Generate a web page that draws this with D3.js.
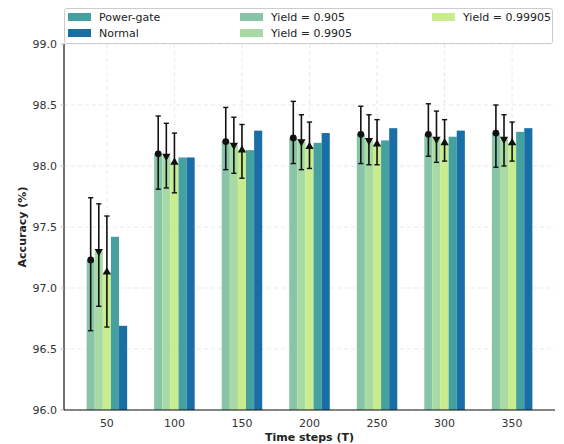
<!DOCTYPE html>
<html><head><meta charset="utf-8">
<script src="https://cdn.jsdelivr.net/npm/d3@7"></script>
<style>body{margin:0;background:#fff}svg{display:block}text{font-family:"DejaVu Sans",sans-serif}</style>
</head><body><svg id="c" width="564" height="444"></svg>
<script>
const categories = ["50","100","150","200","250","300","350"];
const yTicks = [96.0,96.5,97.0,97.5,98.0,98.5,99.0];
const y905   = [97.23,98.10,98.20,98.23,98.26,98.26,98.27];
const y905Lo = [96.65,97.81,97.97,98.02,98.02,98.08,97.99];
const y905Hi = [97.74,98.41,98.48,98.53,98.49,98.51,98.50];
const y9905   = [97.30,98.08,98.17,98.20,98.21,98.22,98.22];
const y9905Lo = [96.85,97.82,97.94,97.97,98.01,98.03,98.00];
const y9905Hi = [97.69,98.35,98.40,98.42,98.42,98.45,98.42];
const y99905   = [97.13,98.03,98.13,98.16,98.18,98.19,98.19];
const y99905Lo = [96.68,97.78,97.90,97.98,98.01,98.04,98.04];
const y99905Hi = [97.59,98.27,98.34,98.36,98.38,98.38,98.36];
const powerGate = [97.42,98.07,98.13,98.19,98.21,98.24,98.28];
const normal    = [96.69,98.07,98.29,98.27,98.31,98.29,98.31];

const series = [
  {name:"Yield = 0.905",   vals:y905,   lo:y905Lo,   hi:y905Hi,   color:"#88c4a8", marker:"circle"},
  {name:"Yield = 0.9905",  vals:y9905,  lo:y9905Lo,  hi:y9905Hi,  color:"#a7dba3", marker:"down"},
  {name:"Yield = 0.99905", vals:y99905, lo:y99905Lo, hi:y99905Hi, color:"#c9ec8f", marker:"up"},
  {name:"Power-gate", vals:powerGate, color:"#45a0a0"},
  {name:"Normal",     vals:normal,    color:"#1a6ea6"}
];

const svg = d3.select("#c");
const L=64, R=555, T=44, B=410;
const x = d3.scaleLinear().domain([-0.635, 6.635]).range([L,R]);
const y = d3.scaleLinear().domain([96,99]).range([B,T]);
const bw = 0.12;

// grid
const g = svg.append("g");
g.selectAll(".hg").data(yTicks).join("line")
  .attr("x1",L).attr("x2",R).attr("y1",d=>y(d)).attr("y2",d=>y(d))
  .attr("stroke","#e3e3e3").attr("stroke-width",0.8).attr("stroke-dasharray","4,3");
g.selectAll(".vg").data(categories).join("line")
  .attr("x1",(d,i)=>x(i)).attr("x2",(d,i)=>x(i)).attr("y1",T).attr("y2",B)
  .attr("stroke","#e3e3e3").attr("stroke-width",0.8).attr("stroke-dasharray","4,3");

// bars
series.forEach((s,si)=>{
  const off = (si-2)*bw;
  svg.append("g").selectAll("rect").data(s.vals).join("rect")
    .attr("x",(d,i)=>x(i+off-bw/2)).attr("width",x(bw)-x(0))
    .attr("y",d=>y(d)).attr("height",d=>B-y(d)).attr("fill",s.color);
});
// error bars
series.forEach((s,si)=>{
  if(!s.lo) return;
  const off=(si-2)*bw;
  const eg = svg.append("g");
  s.vals.forEach((v,i)=>{
    const cx = x(i+off);
    eg.append("line").attr("x1",cx).attr("x2",cx).attr("y1",y(s.lo[i])).attr("y2",y(s.hi[i]))
      .attr("stroke","#111").attr("stroke-width",1.6);
    [s.lo[i],s.hi[i]].forEach(e=>eg.append("line").attr("x1",cx-2.6).attr("x2",cx+2.6)
      .attr("y1",y(e)).attr("y2",y(e)).attr("stroke","#111").attr("stroke-width",1.4));
    const cy=y(v);
    if(s.marker==="circle") eg.append("circle").attr("cx",cx).attr("cy",cy).attr("r",3.4).attr("fill","#111");
    else {
      const sym = d3.symbol().type(d3.symbolTriangle).size(30);
      eg.append("path").attr("d",sym()).attr("fill","#111")
        .attr("transform",`translate(${cx},${cy})` + (s.marker==="down"?" rotate(180)":""));
    }
  });
});

// axes
svg.append("line").attr("x1",L).attr("x2",L).attr("y1",T).attr("y2",B).attr("stroke","#111").attr("stroke-width",1.2);
svg.append("line").attr("x1",L).attr("x2",R).attr("y1",B).attr("y2",B).attr("stroke","#111").attr("stroke-width",1.2);
svg.selectAll(".yt").data(yTicks).join("text")
  .attr("x",L-7).attr("y",d=>y(d)).attr("dy","0.35em").attr("text-anchor","end")
  .attr("font-size",11).attr("fill","#333").text(d=>d.toFixed(1));
svg.selectAll(".ytk").data(yTicks).join("line")
  .attr("x1",L-3.5).attr("x2",L).attr("y1",d=>y(d)).attr("y2",d=>y(d)).attr("stroke","#bbb");
svg.selectAll(".xt").data(categories).join("text")
  .attr("x",(d,i)=>x(i)).attr("y",B+17).attr("text-anchor","middle")
  .attr("font-size",11).attr("fill","#333").text(d=>d);
svg.append("text").attr("x",(L+R)/2).attr("y",441).attr("text-anchor","middle")
  .attr("font-size",11).attr("font-weight","bold").attr("fill","#222").text("Time steps (T)");
svg.append("text").attr("transform",`translate(26,${(T+B)/2}) rotate(-90)`).attr("text-anchor","middle")
  .attr("font-size",11).attr("font-weight","bold").attr("fill","#222").text("Accuracy (%)");

// legend
svg.append("rect").attr("x",64.5).attr("y",8.5).attr("width",488).attr("height",35).attr("rx",2)
  .attr("fill","#fff").attr("fill-opacity",0.85).attr("stroke","#ccc");
const legOrder = [3,4,0,1,2];
const colX = [68,240,432], rowY=[17,33];
legOrder.forEach((si,k)=>{
  const s=series[si], c=Math.floor(k/2), r=k%2;
  svg.append("rect").attr("x",colX[c]).attr("y",rowY[r]-4).attr("width",23).attr("height",8).attr("fill",s.color);
  svg.append("text").attr("x",colX[c]+31).attr("y",rowY[r]).attr("dy","0.35em")
    .attr("font-size",11).attr("fill","#222").text(s.name);
});
</script></body></html>
